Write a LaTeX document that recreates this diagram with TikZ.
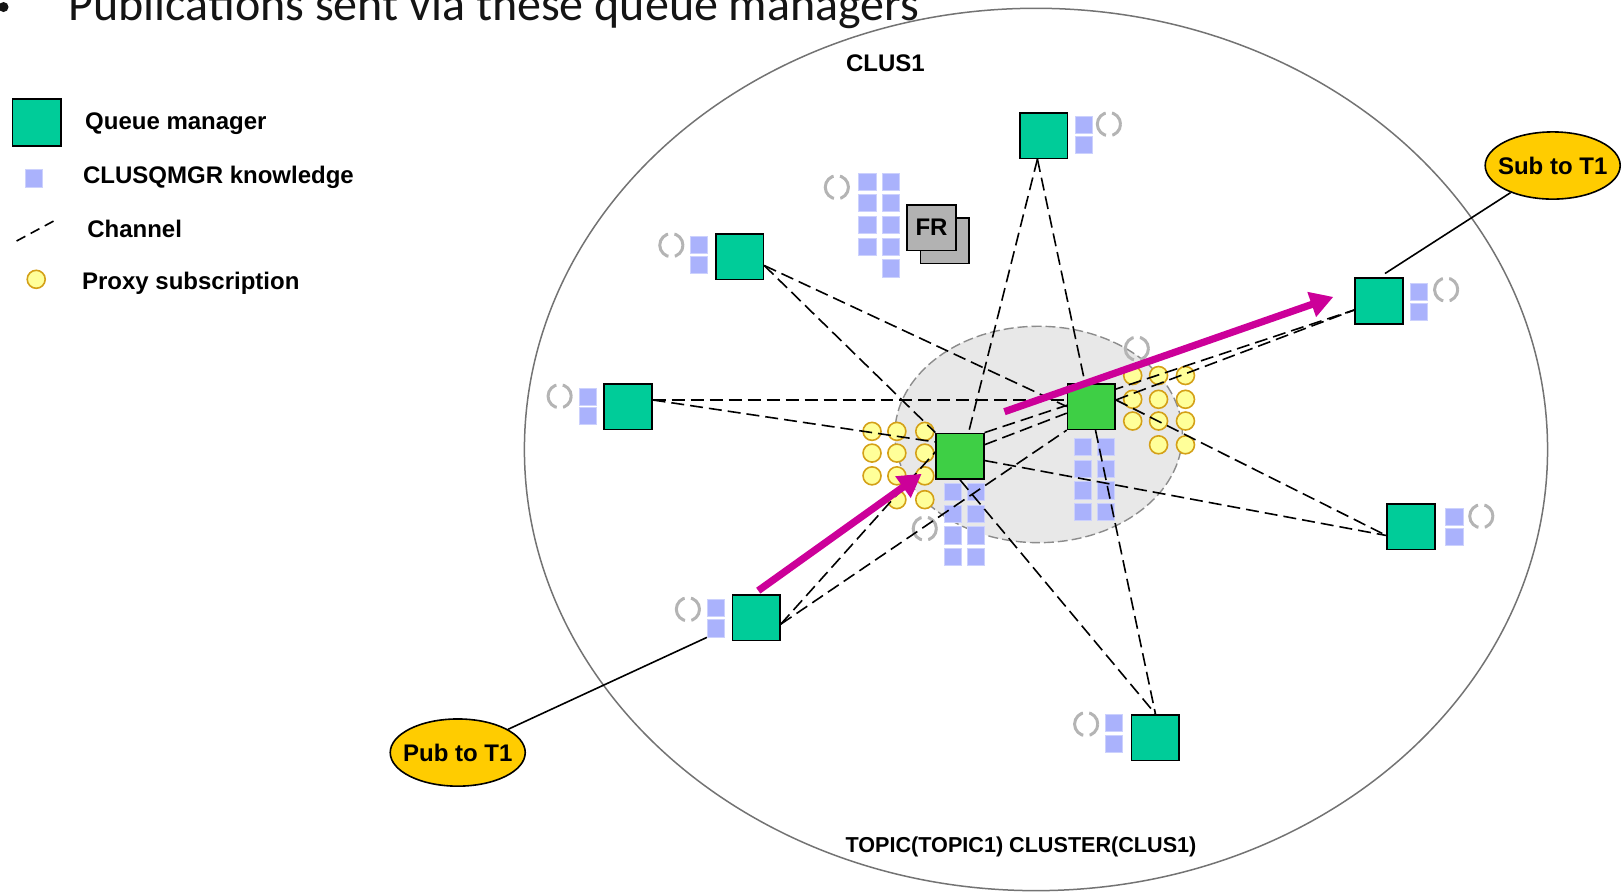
\documentclass[tikz,border=0pt]{standalone}
\usepackage{fontspec}
\setmainfont{Liberation Sans}
\newfontfamily\titlefont{Carlito}
\usetikzlibrary{shapes.geometric,arrows.meta}
\definecolor{qmteal}{RGB}{0,204,153}
\definecolor{qmgreen}{RGB}{62,207,69}
\definecolor{kblue}{RGB}{170,178,252}
\definecolor{pyfill}{RGB}{255,255,153}
\definecolor{pyline}{RGB}{212,160,23}
\definecolor{magent}{RGB}{204,0,153}
\definecolor{ellgray}{RGB}{115,115,115}
\definecolor{innerfill}{RGB}{232,232,232}
\definecolor{innerline}{RGB}{140,140,140}
\definecolor{dcgray}{RGB}{180,180,180}
\definecolor{frgray}{RGB}{178,178,178}
\definecolor{ellyellow}{RGB}{255,204,0}
\definecolor{titlecol}{RGB}{20,20,20}
\pgfdeclarelayer{bg}
\pgfdeclarelayer{circ}
\pgfdeclarelayer{chan}
\pgfsetlayers{bg,circ,chan,main}
\begin{document}
\begin{tikzpicture}[x=0.51724pt,y=-0.51724pt,
  qm/.style={draw=black, line width=0.8pt, fill=qmteal, minimum width=23.8pt, minimum height=22.8pt, inner sep=0pt},
  cqm/.style={qm, fill=qmgreen},
  kb/.style={rectangle, fill=kblue, draw=kblue!60, line width=0.4pt, minimum size=8.6pt, inner sep=0pt},
  px/.style={circle, fill=pyfill, draw=pyline, line width=0.8pt, minimum size=9pt, inner sep=0pt},
  dc/.style={circle, draw=dcgray, line width=1.5pt, minimum size=11.6pt, inner sep=0pt, dash pattern=on 15pt off 3.2pt, dash phase=7.5pt},
  ch/.style={draw=black, line width=0.8pt, dash pattern=on 6.5pt off 3pt},
  arr/.style={draw=magent, line width=3.6pt, -{Triangle[length=11.5pt,width=12.5pt]}},
  lbl/.style={font=\bfseries\fontsize{12}{14}\selectfont, inner sep=0pt},
  pubsub/.style={ellipse, draw=black, line width=0.8pt, fill=ellyellow, minimum width=67.5pt, minimum height=33.6pt, inner xsep=-4pt, inner ysep=0pt, font=\bfseries\fontsize{12}{14}\selectfont},
  frbox/.style={draw=black, line width=0.8pt, fill=frgray, minimum width=24.3pt, minimum height=22.8pt, inner sep=0pt, font=\bfseries\fontsize{12}{14}\selectfont}
]
\useasboundingbox (0,0) rectangle (1568,862);

% title
\node[circle, fill=titlecol, minimum size=5pt, inner sep=0pt] (bullet) at (3.4,6.8) {};
\node[anchor=base west, inner sep=0pt, font=\titlefont\fontsize{24}{28}\selectfont, text=titlecol] (title) at (66,20) {Publications sent via these queue managers};

% legend
\node[qm, minimum width=24.3pt, minimum height=23.3pt] (legqm) at (35.5,118.5) {};
\node[lbl, anchor=base west] (legqmt) at (82,125) {Queue manager};
\node[kb] (legkb) at (32.5,172.5) {};
\node[lbl, anchor=base west] (legkbt) at (80,177) {CLUSQMGR knowledge};
\coordinate (legcha) at (16,233);
\coordinate (legchb) at (55,212);
\draw[ch, dash pattern=on 5pt off 3pt] (legcha) -- (legchb);
\node[lbl, anchor=base west] (legcht) at (84,230) {Channel};
\node[px] (legpx) at (35,270) {};
\node[lbl, anchor=base west] (legpxt) at (79,280) {Proxy subscription};

% ellipses
\begin{pgfonlayer}{bg}
\draw[draw=ellgray, line width=0.75pt] (1001.5,434.5) ellipse [x radius=255.8pt, y radius=220.6pt];
\draw[draw=innerline, fill=innerfill, line width=0.7pt, dash pattern=on 5pt off 2pt] (1004,420) ellipse [x radius=71.9pt, y radius=54.1pt];
\end{pgfonlayer}
\node[lbl, anchor=base] (clus) at (856,69) {CLUS1};
\node[lbl, anchor=base, font=\bfseries\fontsize{10.8}{13}\selectfont] (topic) at (987,824) {TOPIC(TOPIC1) CLUSTER(CLUS1)};

% queue managers
\node[qm] (qTop) at (1009,131) {};
\node[qm] (qLT) at (715,248) {};
\node[qm] (qL) at (607,393) {};
\node[qm] (qBL) at (731,597) {};
\node[qm] (qB) at (1117,713) {};
\node[qm] (qR) at (1364,509) {};
\node[qm] (qRT) at (1333,291) {};
\node[cqm] (cL) at (928,441) {};
\node[cqm] (cR) at (1055,393) {};

\begin{pgfonlayer}{circ}
% CLUSQMGR knowledge
\foreach \x/\y [count=\i] in {1047.5/120.5, 1047.5/140,
   676/236.5, 676/256,
   568/383.5, 568/402,
   692/588, 692/607.5,
   1077/699, 1077/719,
   1406/499.5, 1406/519,
   1372/282, 1372/301.5,
   838.5/175.5, 838.5/196.5, 838.5/217.5, 838.5/238.5,
   861/175.5, 861/196.5, 861/217.5, 861/238.5, 861/259.5,
   921.5/475.5, 921.5/496.5, 921.5/517.5, 921.5/538.5,
   943.5/475.5, 943.5/496.5, 943.5/517.5, 943.5/538.5,
   1047/432, 1047/453, 1047/474, 1047/495,
   1069/432, 1069/453, 1069/474, 1069/495}
  \node[kb] (k\i) at (\x,\y) {};
% proxy subscriptions
\foreach \x/\y [count=\i] in {843/417, 867/417, 894/417,
   843/438, 867/438, 894/438,
   843/460, 867/460, 894/460,
   867/483, 894/483,
   1095/363, 1120/363, 1146/363,
   1095/386, 1120/386, 1146/386,
   1095/407, 1120/407, 1146/407,
   1120/430, 1146/430}
  \node[px] (p\i) at (\x,\y) {};
% dashed circles
\foreach \x/\y [count=\i] in {1072/120, 649/237, 541/383, 665/589, 1050/700,
   1432/499, 1398/280, 809/181, 1099/337, 894/511}
  \node[dc] (d\i) at (\x,\y) {};
\end{pgfonlayer}

% channels
\begin{pgfonlayer}{chan}
\draw[ch] (qLT.-20) -- (cL.north west);
\draw[ch] (qLT.-20) -- (cR.west);
\draw[ch] (qL.15) -- (cR.165);
\draw[ch] (qL.15) -- (cL.150);
\draw[ch] (qTop.255) -- (cL.70);
\draw[ch] (qTop.255) -- (cR.105);
\draw[ch] (qBL.-15) -- (cL.170);
\draw[ch] (qBL.-15) -- (cR.south west);
\draw[ch] (cL.south) -- (qB.north);
\draw[ch] (cR.-80) -- (qB.north);
\draw[ch] (cL.-10) -- (qR.200);
\draw[ch] (cR.15) -- (qR.200);
\draw[ch] (cR.15) -- (qRT.200);
\draw[ch] (cL.north east) -- (qRT.200);
\draw[ch] (cL.25) -- (cR.195);
\end{pgfonlayer}

% FR
\node[frbox] (fr2) at (913.5,232.5) {};
\node[frbox] (fr1) at (900.5,220) {FR};

% pub / sub
\node[pubsub] (pub) at (442.5,727.5) {Pub to T1};
\node[pubsub] (sub) at (1501,160) {Sub to T1};
\draw[line width=0.8pt] (pub) -- (k8.south west);
\draw[line width=0.8pt, shorten >=3.6pt] (sub) -- (qRT.north);

% magenta arrows
\coordinate (a1s) at (733,571);
\coordinate (a1e) at (891,458);
\coordinate (a2s) at (971,398);
\coordinate (a2e) at (1289,287);
\draw[arr] (a1s) -- (a1e);
\draw[arr] (a2s) -- (a2e);
\end{tikzpicture}
\end{document}
